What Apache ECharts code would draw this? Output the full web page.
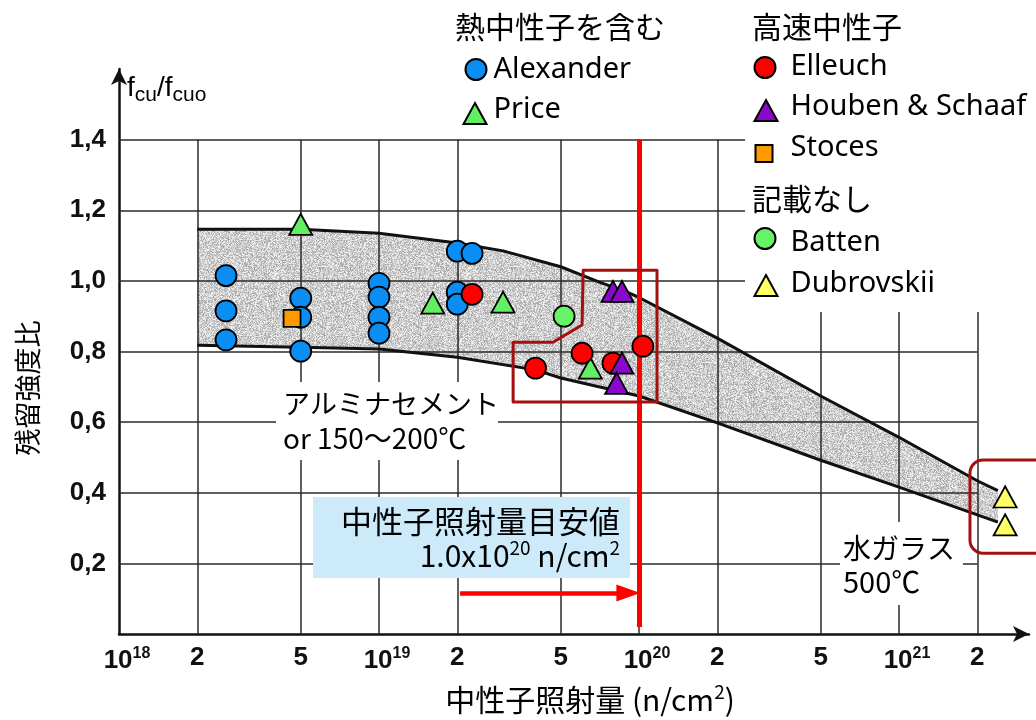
<!DOCTYPE html>
<html lang="ja">
<head>
<meta charset="UTF-8">
<title>残留強度比</title>
<style>
  html, body { margin: 0; padding: 0; background: #fff; }
  #chart { width: 1036px; height: 720px; }
</style>
</head>
<body>
<div id="chart"></div>
<script src="https://cdn.jsdelivr.net/npm/echarts@6/dist/echarts.min.js"></script>
<script>
// 熱中性子を含む
var alexander = [[2.58e18, 1.015], [2.58e18, 0.915], [2.58e18, 0.833],
  [5e18, 0.951], [5e18, 0.897], [5e18, 0.801],
  [1e19, 0.993], [1e19, 0.954], [1e19, 0.897], [1e19, 0.852],
  [2e19, 1.084], [2.28e19, 1.078], [2e19, 0.968], [2e19, 0.934]];
var price = [[5e18, 1.16], [1.61e19, 0.937], [3e19, 0.94], [6.5e19, 0.753]];
// 高速中性子
var elleuch = [[2.28e19, 0.962], [4e19, 0.753], [6.04e19, 0.795], [7.94e19, 0.767], [1.035e20, 0.815]];
var houben = [[7.94e19, 0.97], [8.6e19, 0.97], [8.6e19, 0.767], [8.2e19, 0.71]];
var stoces = [[4.63e18, 0.894]];
// 記載なし
var batten = [[5.15e19, 0.9]];
var dubrovskii = [[2.56e21, 0.388], [2.56e21, 0.309]];

// ばらつきの範囲（上限・下限）
var bandUpper = [[2e18, 1.146], [5e18, 1.146], [1e19, 1.135], [2e19, 1.107], [3e19, 1.085],
  [5e19, 1.04], [7e19, 0.997], [9e19, 0.968], [1e20, 0.953], [2e20, 0.838], [5e20, 0.674],
  [1e21, 0.557], [2e21, 0.434], [2.4e21, 0.406]];
var bandLower = [[2e18, 0.818], [5e18, 0.812], [1e19, 0.807], [2e19, 0.784], [4e19, 0.748],
  [5e19, 0.725], [1e20, 0.674], [2e20, 0.598], [5e20, 0.492], [1e21, 0.416], [2.4e21, 0.317]];

// 目盛
var xMinorTicks = [2e18, 5e18, 2e19, 5e19, 2e20, 5e20, 2e21];
var xDecades = [1e19, 1e20, 1e21];
var yTicks = [0.2, 0.4, 0.6, 0.8, 1.0, 1.2, 1.4];

// 目安値と注記枠
var doseLimit = 1e20;
var arrowFrom = [2.05e19, 0.116];
var arrowTo = [9.1e19, 0.116];
var fastBox = [[6.1e19, 1.03], [1.173e20, 1.03], [1.173e20, 0.657], [3.28e19, 0.657],
  [3.28e19, 0.826], [4.67e19, 0.826], [6.04e19, 0.875]];
var glassBox = [[1.875e21, 0.4925], [1e22, 0.229]];

var FONT_NUM = "'Liberation Sans', Arial, sans-serif";
var FONT_JP = "'Noto Sans CJK JP', sans-serif";
var FONT_EN = "'Noto Sans', sans-serif";

// 網掛けパターン
function makeStipple() {
  var cv = document.createElement('canvas');
  cv.width = cv.height = 96;
  var ctx = cv.getContext('2d');
  var img = ctx.createImageData(96, 96);
  for (var j = 0; j < 96; j++) {
    for (var i = 0; i < 96; i++) {
      var h = Math.sin(i * 12.9898 + j * 78.233) * 43758.5453;
      var v = h - Math.floor(h);
      var g = Math.round(162 + v * 86);
      var k = (j * 96 + i) * 4;
      img.data[k] = img.data[k + 1] = img.data[k + 2] = g;
      img.data[k + 3] = 255;
    }
  }
  ctx.putImageData(img, 0, 0);
  return cv;
}
var stipple = makeStipple();

function gridLines() {
  var d = [];
  xMinorTicks.forEach(function (x) {
    var m = Math.round(x / Math.pow(10, Math.floor(Math.log10(x) + 1e-9)));
    d.push([{ coord: [x, 0], label: { show: true, formatter: String(m) } }, { coord: [x, 1.4] }]);
  });
  xDecades.forEach(function (x) {
    d.push([{ coord: [x, 0] }, { coord: [x, 1.4] }]);
  });
  yTicks.forEach(function (y) {
    d.push([{ coord: [1e18, y] }, { coord: [2e21, y] }]);
  });
  return d;
}

function scatter(name, data, symbol, size, color) {
  return {
    name: name, type: 'scatter', data: data, symbol: symbol, symbolSize: size, z: 6,
    itemStyle: { color: color, borderColor: '#000', borderWidth: 1.8, opacity: 1 }
  };
}

// pad: [上, 右, 下, 左] 文字の余白（記号との上下のずれを作る）
function legendAt(name, left, top, iw, ih, pad) {
  return {
    data: [name], left: left, top: top, orient: 'vertical', itemWidth: iw, itemHeight: ih,
    itemGap: 0, padding: 0, selectedMode: false, z: 10,
    formatter: '{t|{name}}',
    textStyle: {
      rich: { t: { fontSize: 29, fontFamily: FONT_EN, color: '#000', lineHeight: 34, padding: pad } }
    }
  };
}

var chart = echarts.init(document.getElementById('chart'));

var option = {
  animation: false,
  backgroundColor: '#fff',
  grid: { left: 119, right: 7, top: 69, bottom: 86 },
  xAxis: {
    type: 'log', logBase: 10, min: 1e18, max: Math.pow(10, 21.5),
    axisLine: { show: true, lineStyle: { color: '#111', width: 2.5 }, symbol: ['none', 'arrow'], symbolSize: [12, 16] },
    axisTick: { show: false },
    splitLine: { show: false },
    axisLabel: {
      margin: 12,
      padding: [0, 0, 0, 16],
      formatter: function (v) {
        var e = Math.log10(v);
        if (Math.abs(e - Math.round(e)) > 1e-6) return '';
        return '{b|10}{s|' + Math.round(e) + '}';
      },
      rich: {
        b: { fontFamily: FONT_NUM, fontWeight: 'bold', fontSize: 26, color: '#111', lineHeight: 30 },
        s: { fontFamily: FONT_NUM, fontWeight: 'bold', fontSize: 16, color: '#111', lineHeight: 16, verticalAlign: 'top' }
      }
    }
  },
  yAxis: {
    type: 'value', min: 0, max: 1.6, interval: 0.2,
    axisLine: { show: true, onZero: false, lineStyle: { color: '#111', width: 2.5 }, symbol: ['none', 'arrow'], symbolSize: [12, 16] },
    axisTick: { show: false },
    splitLine: { show: false },
    axisLabel: {
      margin: 13, fontFamily: FONT_NUM, fontWeight: 'bold', fontSize: 26, color: '#111',
      formatter: function (v) {
        if (v < 0.1 || v > 1.45) return '';
        return v.toFixed(1).replace('.', ',');
      }
    }
  },
  legend: [
    legendAt('Alexander', 464.5, 55, 21, 21, [0, 0, 0, 2]),
    legendAt('Price', 462.5, 95, 23, 21, [0, 0, 8, 2]),
    legendAt('Elleuch', 753.5, 52, 21, 21, [0, 0, 2, 10]),
    legendAt('Houben & Schaaf', 753.5, 92, 23, 21, [0, 0, 8, 8]),
    legendAt('Stoces', 754.5, 133, 17, 17, [0, 0, 12, 13]),
    legendAt('Batten', 753.5, 220, 21, 21, [8, 0, 0, 10]),
    legendAt('Dubrovskii', 753.5, 269, 23, 21, [0, 0, 4, 8])
  ],
  series: [
    {
      // 網掛けの帯
      type: 'custom', z: 1, silent: true, data: [[1e19, 1]],
      renderItem: function (params, api) {
        var pts = bandUpper.map(function (p) { return api.coord(p); })
          .concat(bandLower.slice().reverse().map(function (p) { return api.coord(p); }));
        return { type: 'polygon', shape: { points: pts }, style: { fill: { image: stipple, repeat: 'repeat' } } };
      }
    },
    {
      // 格子
      type: 'line', data: [], silent: true, z: 2,
      markLine: {
        silent: true, z: 2, symbol: ['none', 'none'],
        lineStyle: { color: '#2a2a2a', width: 1.5, type: 'solid' },
        label: {
          show: false, position: 'start', distance: 11,
          fontFamily: FONT_NUM, fontWeight: 'bold', fontSize: 26, color: '#111'
        },
        emphasis: { disabled: true },
        data: gridLines()
      }
    },
    {
      type: 'line', data: bandUpper, symbol: 'none', silent: true, z: 3,
      lineStyle: { color: '#111', width: 3 }
    },
    {
      type: 'line', data: bandLower, symbol: 'none', silent: true, z: 3,
      lineStyle: { color: '#111', width: 3 }
    },
    {
      // 注記枠
      type: 'custom', z: 4, silent: true, data: [[1e19, 1]],
      renderItem: function (params, api) {
        var pts = fastBox.map(function (p) { return api.coord(p); });
        var a = api.coord(glassBox[0]), b = api.coord(glassBox[1]);
        return {
          type: 'group', children: [
            { type: 'polygon', shape: { points: pts }, style: { fill: 'none', stroke: '#a3100f', lineWidth: 3, lineJoin: 'round' } },
            { type: 'rect', shape: { x: a[0], y: a[1], width: b[0] - a[0], height: b[1] - a[1], r: 13 }, style: { fill: 'none', stroke: '#a3100f', lineWidth: 3 } }
          ]
        };
      }
    },
    {
      // 目安値の線
      type: 'line', data: [], silent: true, z: 4,
      markLine: {
        silent: true, z: 4, symbol: ['none', 'none'], label: { show: false },
        lineStyle: { color: '#ff0000', width: 5, type: 'solid' },
        emphasis: { disabled: true },
        data: [[{ coord: [doseLimit, 0.02] }, { coord: [doseLimit, 1.4] }]]
      }
    },
    {
      type: 'line', data: [], silent: true, z: 4,
      markLine: {
        silent: true, z: 4, symbol: ['none', 'triangle'], symbolSize: [17, 24], label: { show: false },
        lineStyle: { color: '#ff0000', width: 4.5, type: 'solid' },
        itemStyle: { color: '#ff0000' },
        emphasis: { disabled: true },
        data: [[{ coord: arrowFrom }, { coord: arrowTo }]]
      }
    },
    scatter('Alexander', alexander, 'circle', 21, '#0b8ef4'),
    scatter('Price', price, 'triangle', [23, 21], '#62f062'),
    scatter('Elleuch', elleuch, 'circle', 21, '#ff0000'),
    scatter('Houben & Schaaf', houben, 'triangle', [23, 21], '#8a08c9'),
    scatter('Stoces', stoces, 'rect', 17, '#ff9900'),
    scatter('Batten', batten, 'circle', 21, '#66f466'),
    scatter('Dubrovskii', dubrovskii, 'triangle', [23, 21], '#ffff66')
  ],
  graphic: [
    { type: 'rect', z: 5, silent: true, shape: { x: 745, y: 0, width: 291, height: 312 }, style: { fill: '#fff' } },
    { type: 'rect', z: 5, silent: true, shape: { x: 276, y: 382, width: 222, height: 78 }, style: { fill: '#fff' } },
    { type: 'rect', z: 5, silent: true, shape: { x: 840, y: 522, width: 123, height: 83 }, style: { fill: '#fff' } },
    { type: 'rect', z: 5, silent: true, shape: { x: 313, y: 497, width: 317, height: 81 }, style: { fill: '#cdeafb' } },
    { type: 'text', z: 11, x: 455, y: 27, style: { text: '熱中性子を含む', font: '30px ' + FONT_JP, fill: '#000', verticalAlign: 'middle' } },
    { type: 'text', z: 11, x: 752, y: 27, style: { text: '高速中性子', font: '30px ' + FONT_JP, fill: '#000', verticalAlign: 'middle' } },
    { type: 'text', z: 11, x: 752, y: 199, style: { text: '記載なし', font: '30px ' + FONT_JP, fill: '#000', verticalAlign: 'middle' } },
    {
      type: 'text', z: 11, x: 127, y: 88,
      style: {
        text: '{n|f}{s|cu}{n|/f}{s|cuo}', verticalAlign: 'middle',
        rich: {
          n: { fontFamily: FONT_NUM, fontSize: 28, lineHeight: 36, fill: '#000' },
          s: { fontFamily: FONT_NUM, fontSize: 21, lineHeight: 22, verticalAlign: 'bottom', fill: '#000' }
        }
      }
    },
    {
      type: 'text', z: 11, x: 28, y: 388, rotation: Math.PI / 2,
      style: { text: '残留強度比', font: '27px ' + FONT_JP, fill: '#000', align: 'center', verticalAlign: 'middle' }
    },
    {
      type: 'text', z: 11, x: 590, y: 700,
      style: {
        text: '{a|中性子照射量 (n/cm}{s|2}{a|)}', align: 'center', verticalAlign: 'middle',
        rich: {
          a: { fontFamily: FONT_JP, fontSize: 30, lineHeight: 36, fill: '#000' },
          s: { fontFamily: FONT_JP, fontSize: 19, lineHeight: 24, verticalAlign: 'top', fill: '#000' }
        }
      }
    },
    { type: 'text', z: 11, x: 283, y: 404, style: { text: 'アルミナセメント', font: '27px ' + FONT_JP, fill: '#000', verticalAlign: 'middle' } },
    { type: 'text', z: 11, x: 283, y: 438, style: { text: 'or 150〜200℃', font: '28px ' + FONT_JP, fill: '#000', verticalAlign: 'middle' } },
    { type: 'text', z: 11, x: 843, y: 548, style: { text: '水ガラス', font: '28px ' + FONT_JP, fill: '#000', verticalAlign: 'middle' } },
    { type: 'text', z: 11, x: 843, y: 582, style: { text: '500℃', font: '29px ' + FONT_JP, fill: '#000', verticalAlign: 'middle' } },
    { type: 'text', z: 11, x: 620, y: 521, style: { text: '中性子照射量目安値', font: '31px ' + FONT_JP, fill: '#000', align: 'right', verticalAlign: 'middle' } },
    {
      type: 'text', z: 11, x: 620, y: 556,
      style: {
        text: '{a|1.0x10}{s|20}{a| n/cm}{s|2}', align: 'right', verticalAlign: 'middle',
        rich: {
          a: { fontFamily: FONT_JP, fontSize: 30, lineHeight: 36, fill: '#000' },
          s: { fontFamily: FONT_JP, fontSize: 19, lineHeight: 24, verticalAlign: 'top', fill: '#000' }
        }
      }
    }
  ]
};

chart.setOption(option);
</script>
</body>
</html>
